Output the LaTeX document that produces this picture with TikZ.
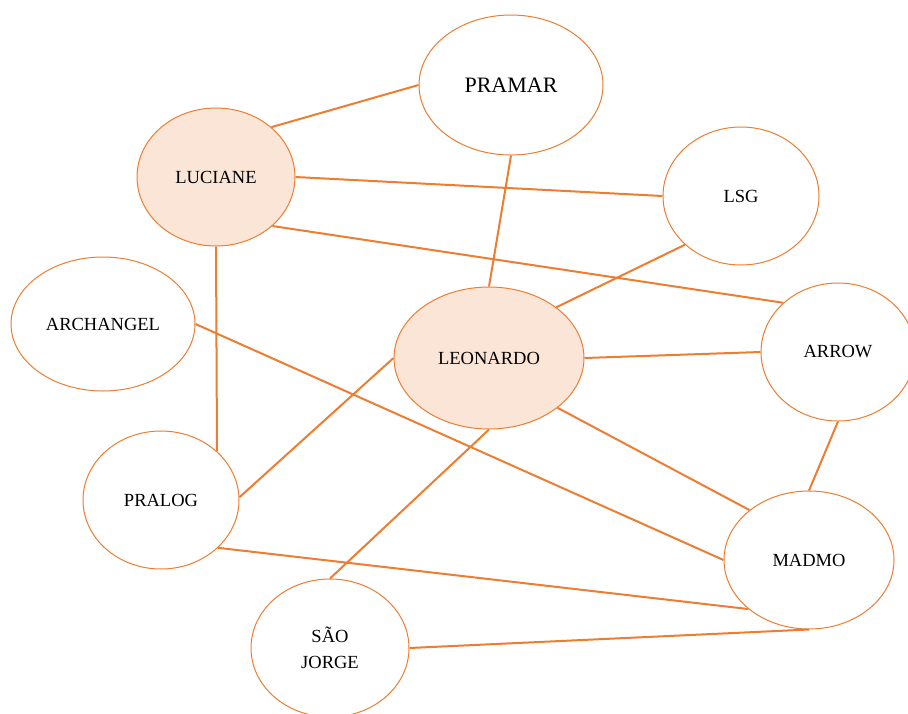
\documentclass[tikz,border=0pt]{standalone}
\usepackage{fontspec}
\setmainfont{Liberation Serif}
\usetikzlibrary{shapes.geometric}
\definecolor{orng}{RGB}{237,125,49}
\definecolor{peach}{RGB}{251,229,214}
\tikzset{
  ent/.style={ellipse, draw=orng, line width=1pt, fill=white, inner sep=0pt,
    font=\fontsize{18.5}{26}\selectfont, align=center},
  hot/.style={ent, fill=peach},
  link/.style={draw=orng, line width=2pt}
}
\begin{document}
\begin{tikzpicture}[x=1pt,y=-1pt]
\useasboundingbox (0,0) rectangle (908,713);
\node[hot, minimum width=158pt, minimum height=138pt] (luc) at (216,177) {LUCIANE};
\node[ent, minimum width=184pt, minimum height=140pt, font=\fontsize{22}{26}\selectfont] (pra) at (511,85) {PRAMAR};
\node[ent, minimum width=156pt, minimum height=138pt] (lsg) at (741,196) {LSG};
\node[ent, minimum width=184pt, minimum height=134pt] (arc) at (103,324) {ARCHANGEL};
\node[hot, minimum width=190pt, minimum height=142pt] (leo) at (489,358) {LEONARDO};
\node[ent, minimum width=154pt, minimum height=138pt] (arr) at (838,352) {ARROW};
\node[ent, minimum width=156pt, minimum height=138pt] (plg) at (161,500) {PRALOG};
\node[ent, minimum width=170pt, minimum height=138pt] (mad) at (809,560) {MADMO};
\node[ent, minimum width=158pt, minimum height=138pt] (sao) at (330,648) {SÃO\\JORGE};
\path[link]
  (luc.42) -- (pra.180)
  (luc.0) -- (lsg.180)
  (luc.-41) -- (arr.138)
  (luc.-90) -- (plg.41)
  (pra.-90) -- (leo.90)
  (lsg.-139.5) -- (leo.37)
  (leo.0) -- (arr.180)
  (leo.-36) -- (mad.140)
  (leo.-90) -- (sao.90)
  (leo.180) -- (plg.2)
  (arc.0) -- (mad.180)
  (arr.-90) -- (mad.90)
  (plg.-40) -- (mad.-141.5)
  (sao.0) -- (mad.-90);
\end{tikzpicture}
\end{document}
